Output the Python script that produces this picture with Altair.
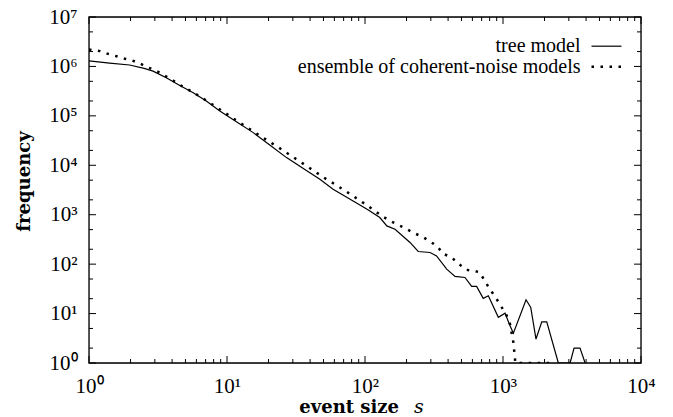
import altair as alt
import pandas as pd

# ---- data ----
tree_s = [1, 1.41, 1.97, 2.51, 2.91, 3.63, 4.55, 5.69, 7.08, 8.87, 11.7, 15.5, 20.4,
          27.0, 35.5, 47.1, 58.7, 82.0, 105, 128, 144, 165, 212, 243, 296, 330, 391,
          449, 530, 593, 644, 719, 783, 925, 1035, 1112, 1189, 1469, 1589, 1734,
          1910, 2075, 2518, 3062, 3273, 3614, 3936]
tree_f = [1.29e6, 1.17e6, 1.07e6, 9.1e5, 8.04e5, 5.89e5, 4.13e5, 2.94e5, 2.0e5,
          1.26e5, 7.6e4, 4.58e4, 2.57e4, 1.43e4, 8710, 5210, 3270, 1900, 1260, 877,
          594, 509, 275, 180, 172, 147, 79.3, 56.4, 53.8, 35.4, 35.4, 20.3, 22.9,
          8.4, 10.2, 6.1, 4.0, 19.0, 13.3, 3.05, 6.8, 6.8, 1, 1, 2, 2, 1]

ens_s = [1, 1.2, 1.37, 1.58, 1.82, 2.03, 2.33, 2.71, 3.05, 3.48, 4.03, 4.55, 5.69,
         7.08, 9.64, 11.1, 16.4, 24.2, 35.6, 52.6, 60.5, 80.0, 103, 132, 152, 195,
         230, 262, 299, 336, 366, 425, 474, 540, 617, 681, 753, 900, 980, 1052,
         1125, 1189, 1230, 2290]
ens_f = [2.19e6, 2.04e6, 1.80e6, 1.61e6, 1.43e6, 1.34e6, 1.15e6, 9.42e5, 8.30e5,
         6.67e5, 5.28e5, 4.22e5, 2.99e5, 2.04e5, 1.16e5, 8.89e4, 4.37e4, 2.20e4,
         1.08e4, 5210, 4130, 2510, 1560, 946, 750, 533, 417, 356, 282, 227, 164,
         136, 103, 76.9, 73.3, 67.9, 41.3, 19.6, 13.3, 9.8, 6.1, 2.6, 1, 1]

legend_labels = ["tree model", "ensemble of coherent-noise models"]
x_major = [1, 10, 100, 1000, 10000]
x_minor = [k * 10 ** d for d in range(4) for k in range(2, 10)]
y_major = [10 ** d for d in range(8)]
y_minor = [k * 10 ** d for d in range(7) for k in (2, 5)]

W, H = 552, 346
LBL = "'Liberation Serif', 'Times New Roman', serif"
TTL = "'DejaVu Serif', serif"

xs = alt.Scale(type="log", domain=[1, 10000])
ys = alt.Scale(type="log", domain=[1, 1e7])
sup = "['\u2070','\u00b9','\u00b2','\u00b3','\u2074','\u2075','\u2076','\u2077']"
lbl_expr = "'10' + " + sup + "[round(log(datum.value)/LN10)]"

tree_df = pd.DataFrame({"s": tree_s, "f": tree_f})
ens_df = pd.DataFrame({"s": ens_s, "f": ens_f})

tree = alt.Chart(tree_df).mark_line(color="black", strokeWidth=1.2, clip=True).encode(
    x=alt.X("s:Q", scale=xs, title=None, axis=alt.Axis(
        values=x_major, labelExpr=lbl_expr, ticks=False, tickSize=0, domain=False,
        grid=False, labelFont=LBL, labelFontSize=21, labelColor="black",
        labelPadding=12, labelFlush=False, labelOverlap=False)),
    y=alt.Y("f:Q", scale=ys, title="frequency", axis=alt.Axis(
        values=y_major, labelExpr=lbl_expr, ticks=False, tickSize=0, domain=False,
        grid=False, labelFont=LBL, labelFontSize=21, labelColor="black",
        labelPadding=12, labelBaseline="middle", labelFlush=False,
        labelOverlap=False, titleFont=TTL, titleFontWeight="bold",
        titleFontSize=18, titleColor="black", titleX=-65, titleY=164,
        titleAngle=270, titleAlign="center", titleBaseline="middle")),
)

ens = alt.Chart(ens_df).mark_line(color="black", strokeWidth=2.5, strokeDash=[2.5, 6.5],
                                  strokeCap="butt", clip=True).encode(
    x=alt.X("s:Q", scale=xs, title=None),
    y=alt.Y("f:Q", scale=ys, title="frequency"),
)

def xticks(vals, length):
    d = pd.DataFrame({"s": vals})
    base = alt.Chart(d).mark_rule(color="black", strokeWidth=1)
    xe = alt.X("s:Q", scale=xs, title=None)
    bottom = base.encode(x=xe, y=alt.value(H), y2=alt.value(H - length))
    top = base.encode(x=xe, y=alt.value(0), y2=alt.value(length))
    return [bottom, top]

def yticks(vals, length):
    d = pd.DataFrame({"f": vals})
    base = alt.Chart(d).mark_rule(color="black", strokeWidth=1)
    ye = alt.Y("f:Q", scale=ys, title="frequency")
    left = base.encode(y=ye, x=alt.value(0), x2=alt.value(length))
    right = base.encode(y=ye, x=alt.value(W), x2=alt.value(W - length))
    return [left, right]

ticks = xticks(x_major, 7) + xticks(x_minor, 4) + yticks(y_major, 7) + yticks(y_minor, 4)

leg_df = pd.DataFrame({"label": legend_labels})
frame = alt.Chart(leg_df.iloc[[0]]).mark_rect(
    fillOpacity=0, stroke="black", strokeWidth=1.3).encode(
    x=alt.value(0), x2=alt.value(W), y=alt.value(0), y2=alt.value(H))
leg_text1 = alt.Chart(leg_df.iloc[[0]]).mark_text(
    align="right", baseline="alphabetic", font=LBL, fontSize=20, color="black").encode(
    text="label:N", x=alt.value(491.5), y=alt.value(35.2))
leg_text2 = alt.Chart(leg_df.iloc[[1]]).mark_text(
    align="right", baseline="alphabetic", font=LBL, fontSize=20, color="black").encode(
    text="label:N", x=alt.value(491.5), y=alt.value(55.8))
leg_line1 = alt.Chart(leg_df.iloc[[0]]).mark_rule(color="black", strokeWidth=1.2).encode(
    x=alt.value(502.5), x2=alt.value(532.5), y=alt.value(29.2))
leg_line2 = alt.Chart(leg_df.iloc[[1]]).mark_rule(
    color="black", strokeWidth=2.5, strokeDash=[2.5, 6.5], strokeCap="butt").encode(
    x=alt.value(502.5), x2=alt.value(534), y=alt.value(49.8))

xt_df = pd.DataFrame({"a": ["event size"], "b": ["s"]})
xtitle_a = alt.Chart(xt_df).mark_text(
    align="right", baseline="alphabetic", font=TTL, fontWeight="bold", fontSize=18,
    color="black").encode(text="a:N", x=alt.value(310), y=alt.value(396))
xtitle_b = alt.Chart(xt_df).mark_text(
    align="left", baseline="alphabetic", font=TTL, fontStyle="italic", fontSize=19,
    color="black").encode(text="b:N", x=alt.value(325), y=alt.value(396))

chart = alt.layer(
    tree, ens, *ticks, frame, leg_text1, leg_text2, leg_line1, leg_line2, xtitle_a, xtitle_b
).properties(
    width=W, height=H, autosize="none",
    padding={"left": 89, "top": 17, "right": 32, "bottom": 54},
).configure_view(strokeOpacity=0).configure(background="white")

chart.save("out.html", embed_options={"renderer": "svg", "actions": False})
